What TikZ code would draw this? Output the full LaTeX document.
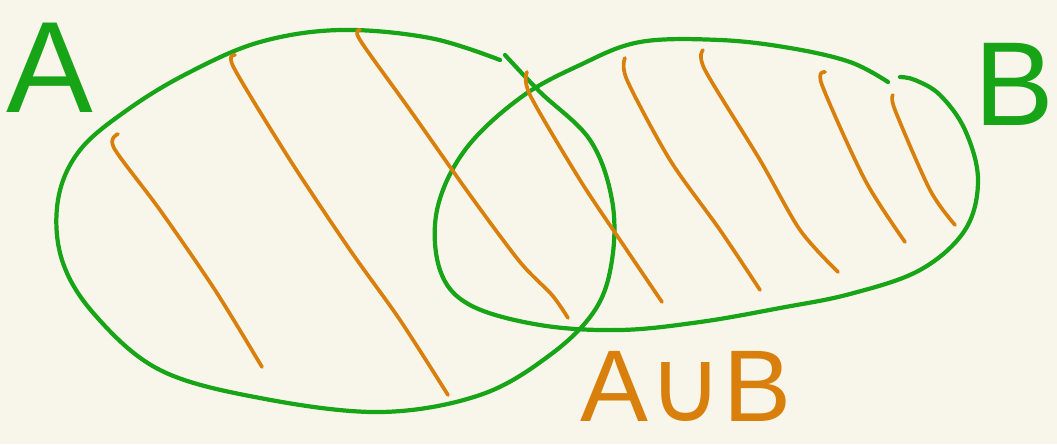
\documentclass[tikz,border=0pt]{standalone}
\usepackage{fontspec}
\setmainfont{Liberation Sans}
\newfontfamily\cupfont{DejaVu Sans}
\usepackage{tikz}
\usetikzlibrary{positioning}
\definecolor{sketchBg}    {HTML}{F8F6EA}
\definecolor{sketchGreen} {HTML}{17A417}
\definecolor{sketchOrange}{HTML}{D9800C}
\tikzset{
  setline/.style  = {draw=sketchGreen, line width=2.4pt, line cap=round, line join=round},
  hatch/.style    = {draw=sketchOrange, line width=2.1pt, line cap=round, line join=round},
  setlabel/.style = {text=sketchGreen, inner sep=0pt, font=\fontsize{74}{74}\selectfont},
  unionlabel/.style = {text=sketchOrange, inner sep=0pt, font=\fontsize{58}{58}\selectfont},
}

\begin{document}
\begin{tikzpicture}[x=0.02cm, y=-0.02cm]

% Canvas
\fill[sketchBg] (0,0) rectangle (1057,444);
\useasboundingbox (0,0) rectangle (1057,444);

% Set A
\draw[setline] plot[smooth, tension=0.6] coordinates {
  (505,55) (540,92) (590,140) (612,200) (612,260) (595,310) (550,355)
  (480,395) (380,412) (260,398) (160,370) (95,315) (62,260) (58,200)
  (80,150) (130,108) (190,72) (260,42) (340,30) (430,38) (500,60)};

% Set B
\draw[setline] plot[smooth, tension=0.6] coordinates {
  (888,82) (850,62) (790,48) (720,40) (640,42) (580,65) (520,98)
  (465,150) (437,210) (440,270) (470,305) (540,325) (620,330) (700,322)
  (780,308) (850,294) (920,270) (965,230) (978,180) (965,130) (940,95)
  (915,80) (900,77)};

% Hatching of the union
\draw[hatch] plot[smooth] coordinates {(118,134) (114,148) (160,210) (215,290) (262,367)};
\draw[hatch] plot[smooth] coordinates {(235,55) (234,68) (290,160) (350,250) (400,320) (448,395)};
\draw[hatch] plot[smooth] coordinates {(360,30) (360,40) (410,110) (470,195) (520,262) (552,295) (568,318)};
\draw[hatch] plot[smooth] coordinates {(527,72) (530,95) (580,180) (620,240) (662,302)};
\draw[hatch] plot[smooth] coordinates {(625,58) (627,80) (670,160) (720,230) (760,290)};
\draw[hatch] plot[smooth] coordinates {(703,50) (705,70) (760,160) (800,230) (838,272)};
\draw[hatch] plot[smooth] coordinates {(825,72) (822,85) (865,180) (905,242)};
\draw[hatch] plot[smooth] coordinates {(893,95) (895,110) (930,190) (955,225)};

% Labels
\node[setlabel] (labA) at (50,68)  {A};
\node[setlabel, font=\fontsize{68}{68}\selectfont] (labB) at (1014,84) {B};
\node[unionlabel] (labU) at (686,386) {A{\cupfont ∪}B};

\end{tikzpicture}
\end{document}
